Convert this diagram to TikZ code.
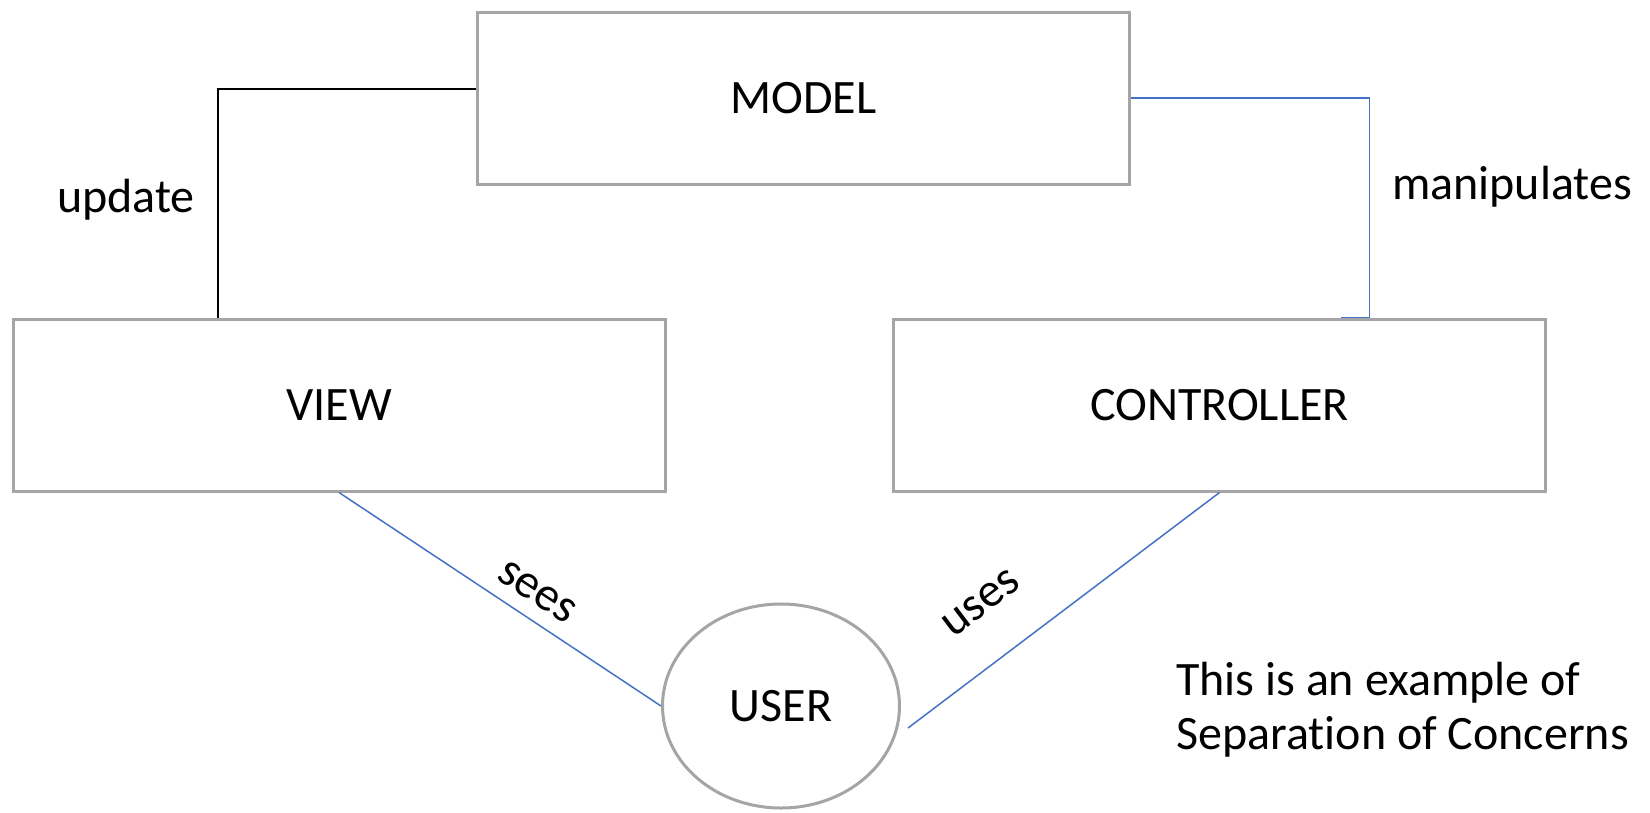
\documentclass[tikz,border=0pt]{standalone}
\usepackage{fontspec}
\setmainfont{Carlito}[RawFeature={-liga}]
\usepackage{tikz}
\usetikzlibrary{shapes.geometric}

\definecolor{boxgray}{HTML}{A5A5A5}
\definecolor{linkblue}{HTML}{4472C4}

\begin{document}
\begin{tikzpicture}[x=1pt,y=-1pt]
\tikzstyle{every node}+=[font=\fontsize{48}{54}\selectfont]
\tikzstyle{part}=[draw=boxgray, line width=3pt, rectangle, minimum width=652pt, minimum height=172pt]
\tikzstyle{link}=[linkblue, line width=1.5pt]
\useasboundingbox (0,0) rectangle (1650,812);
\node [part] (model) at (803.5,98) {MODEL};
\node [part] (view) at (339,405) {VIEW};
\node [part] (controller) at (1219.5,405) {CONTROLLER};
\node [draw=boxgray, line width=3pt, ellipse, minimum width=237pt, minimum height=204pt] (user) at (781,706) {USER};
\draw [black, line width=1.5pt] ([yshift=9pt]model.west) -| ([xshift=-121pt]view.north);
\draw [link] (model.east) -| ([xshift=150pt]controller.north) -- ([xshift=121pt]controller.north);
\draw [link] (view.south) -- (user.west);
\draw [link] (controller.south) -- ([xshift=7pt,yshift=-22pt]user.east);
\node (updatelbl) at (126,200) {update};
\node (manipulateslbl) at (1512,187) {manipulates};
\node [rotate=-33.5] (seeslbl) at (537,592) {sees};
\node [rotate=37] (useslbl) at (981,603) {uses};
\node [anchor=north west, align=left, inner sep=0pt] (note) at (1176,662) {This is an example of\\Separation of Concerns};
\end{tikzpicture}
\end{document}
